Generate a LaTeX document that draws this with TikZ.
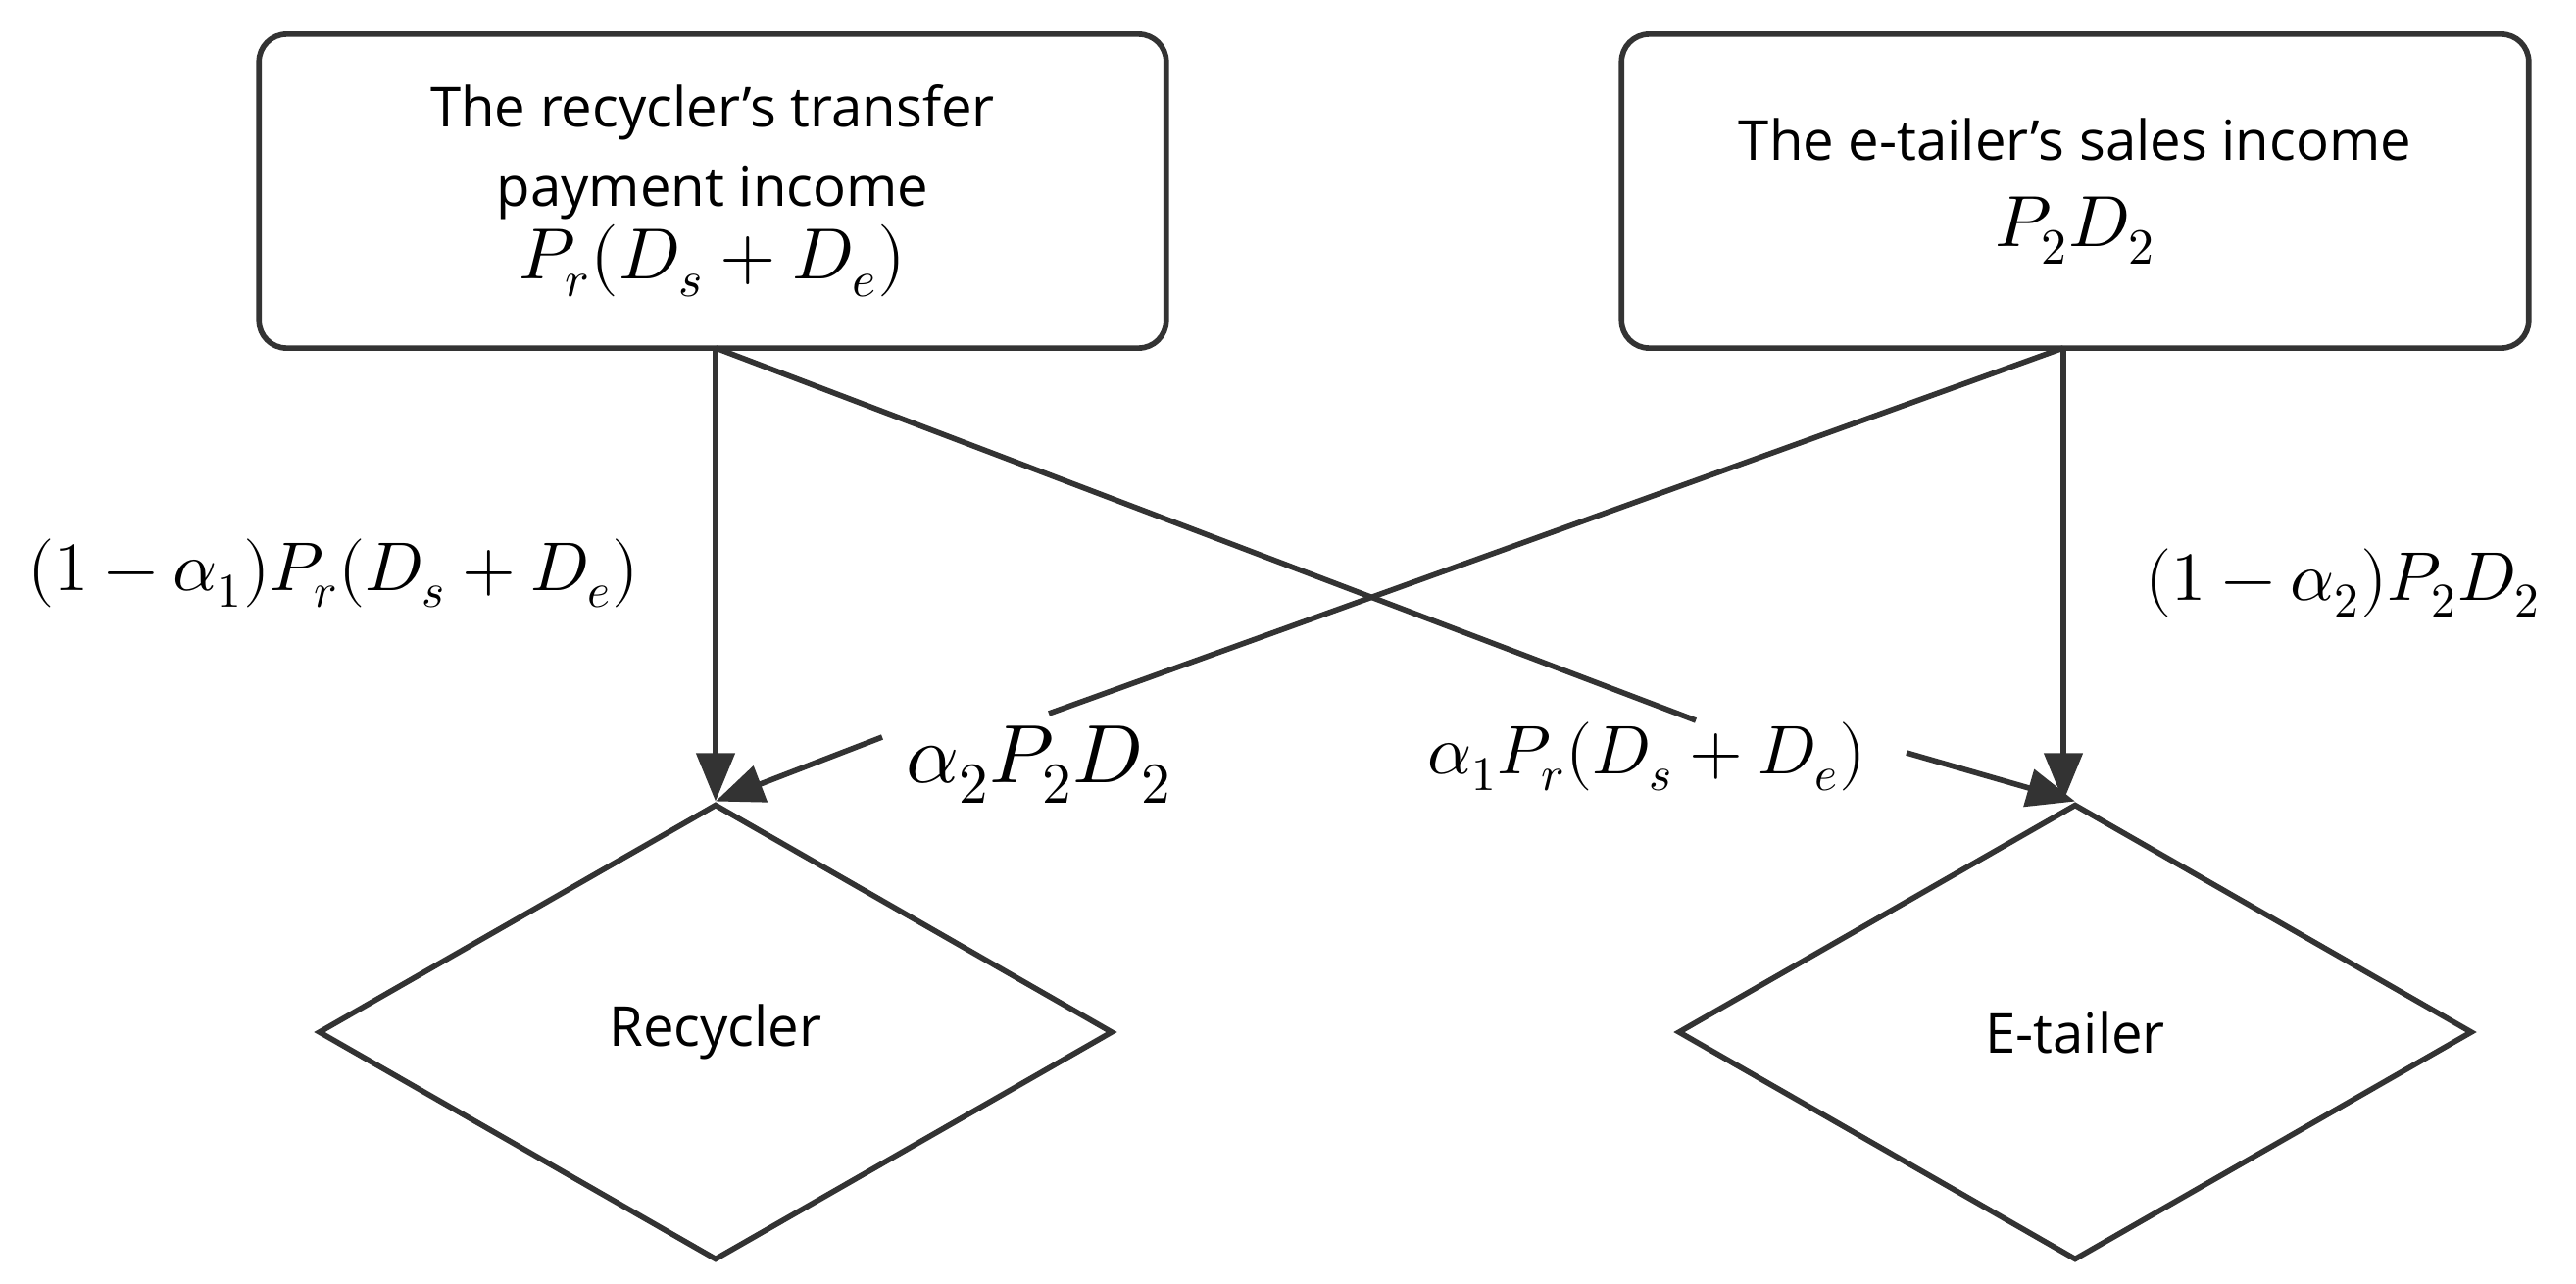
\documentclass[tikz,border=0pt]{standalone}
\usepackage{fontspec}
\setmainfont{Open Sans}
\usepackage{unicode-math}
\setmathfont{Latin Modern Math}
\usetikzlibrary{shapes.geometric,arrows.meta}
\begin{document}
\begin{tikzpicture}[x=0.01cm,y=-0.01cm,
  box/.style={draw=black!80,line width=1.6pt,rounded corners=8pt,minimum width=9.25cm,minimum height=3.2cm,align=center,font=\fontsize{16}{23}\selectfont},
  dia/.style={draw=black!80,line width=1.6pt,diamond,minimum width=8.1cm,minimum height=4.65cm,inner sep=0pt,font=\fontsize{16}{20}\selectfont},
  ln/.style={draw=black!80,line width=1.6pt},
  arr/.style={ln,-{Triangle[length=14pt,width=11pt]}},
  lab/.style={font=\fontsize{20}{24}\selectfont,inner sep=0pt}]
\useasboundingbox (0,0) rectangle (2628,1309);
\node[box] (b1) at (727,195) {The recycler's transfer\\payment income\\[-2pt] {\fontsize{21}{22}\selectfont $P_r(D_s+D_e)$}};
\node[box] (b2) at (2117,195) {The e-tailer's sales income\\[2pt] {\fontsize{21}{22}\selectfont $P_2D_2$}};
\node[dia] (d1) at (730,1053) {Recycler};
\node[dia] (d2) at (2117,1053) {E-tailer};
\coordinate (s1) at (730,355);
\coordinate (s2) at (2105,355);
\node[lab] (l1) at (340,585) {$(1-\alpha_1)P_r(D_s+D_e)$};
\node[lab] (l2) at (2390,595) {$(1-\alpha_2)P_2D_2$};
\node[lab] (l3) at (1060,780) {\fontsize{24}{28}\selectfont$\alpha_2P_2D_2$};
\node[lab] (l4) at (1680,772) {$\alpha_1P_r(D_s+D_e)$};
\coordinate (e1) at (1730,735);
\coordinate (e2) at (1070,728);
\draw[arr] (s1) -- (d1.north);
\draw[arr] (s2) -- (s2 |- d2.north);
\draw[ln] (s1) -- (e1);
\draw[ln] (s2) -- (e2);
\draw[arr] (900,752) -- (d1.north);
\draw[arr] (1945,768) -- (d2.north);
\end{tikzpicture}
\end{document}
